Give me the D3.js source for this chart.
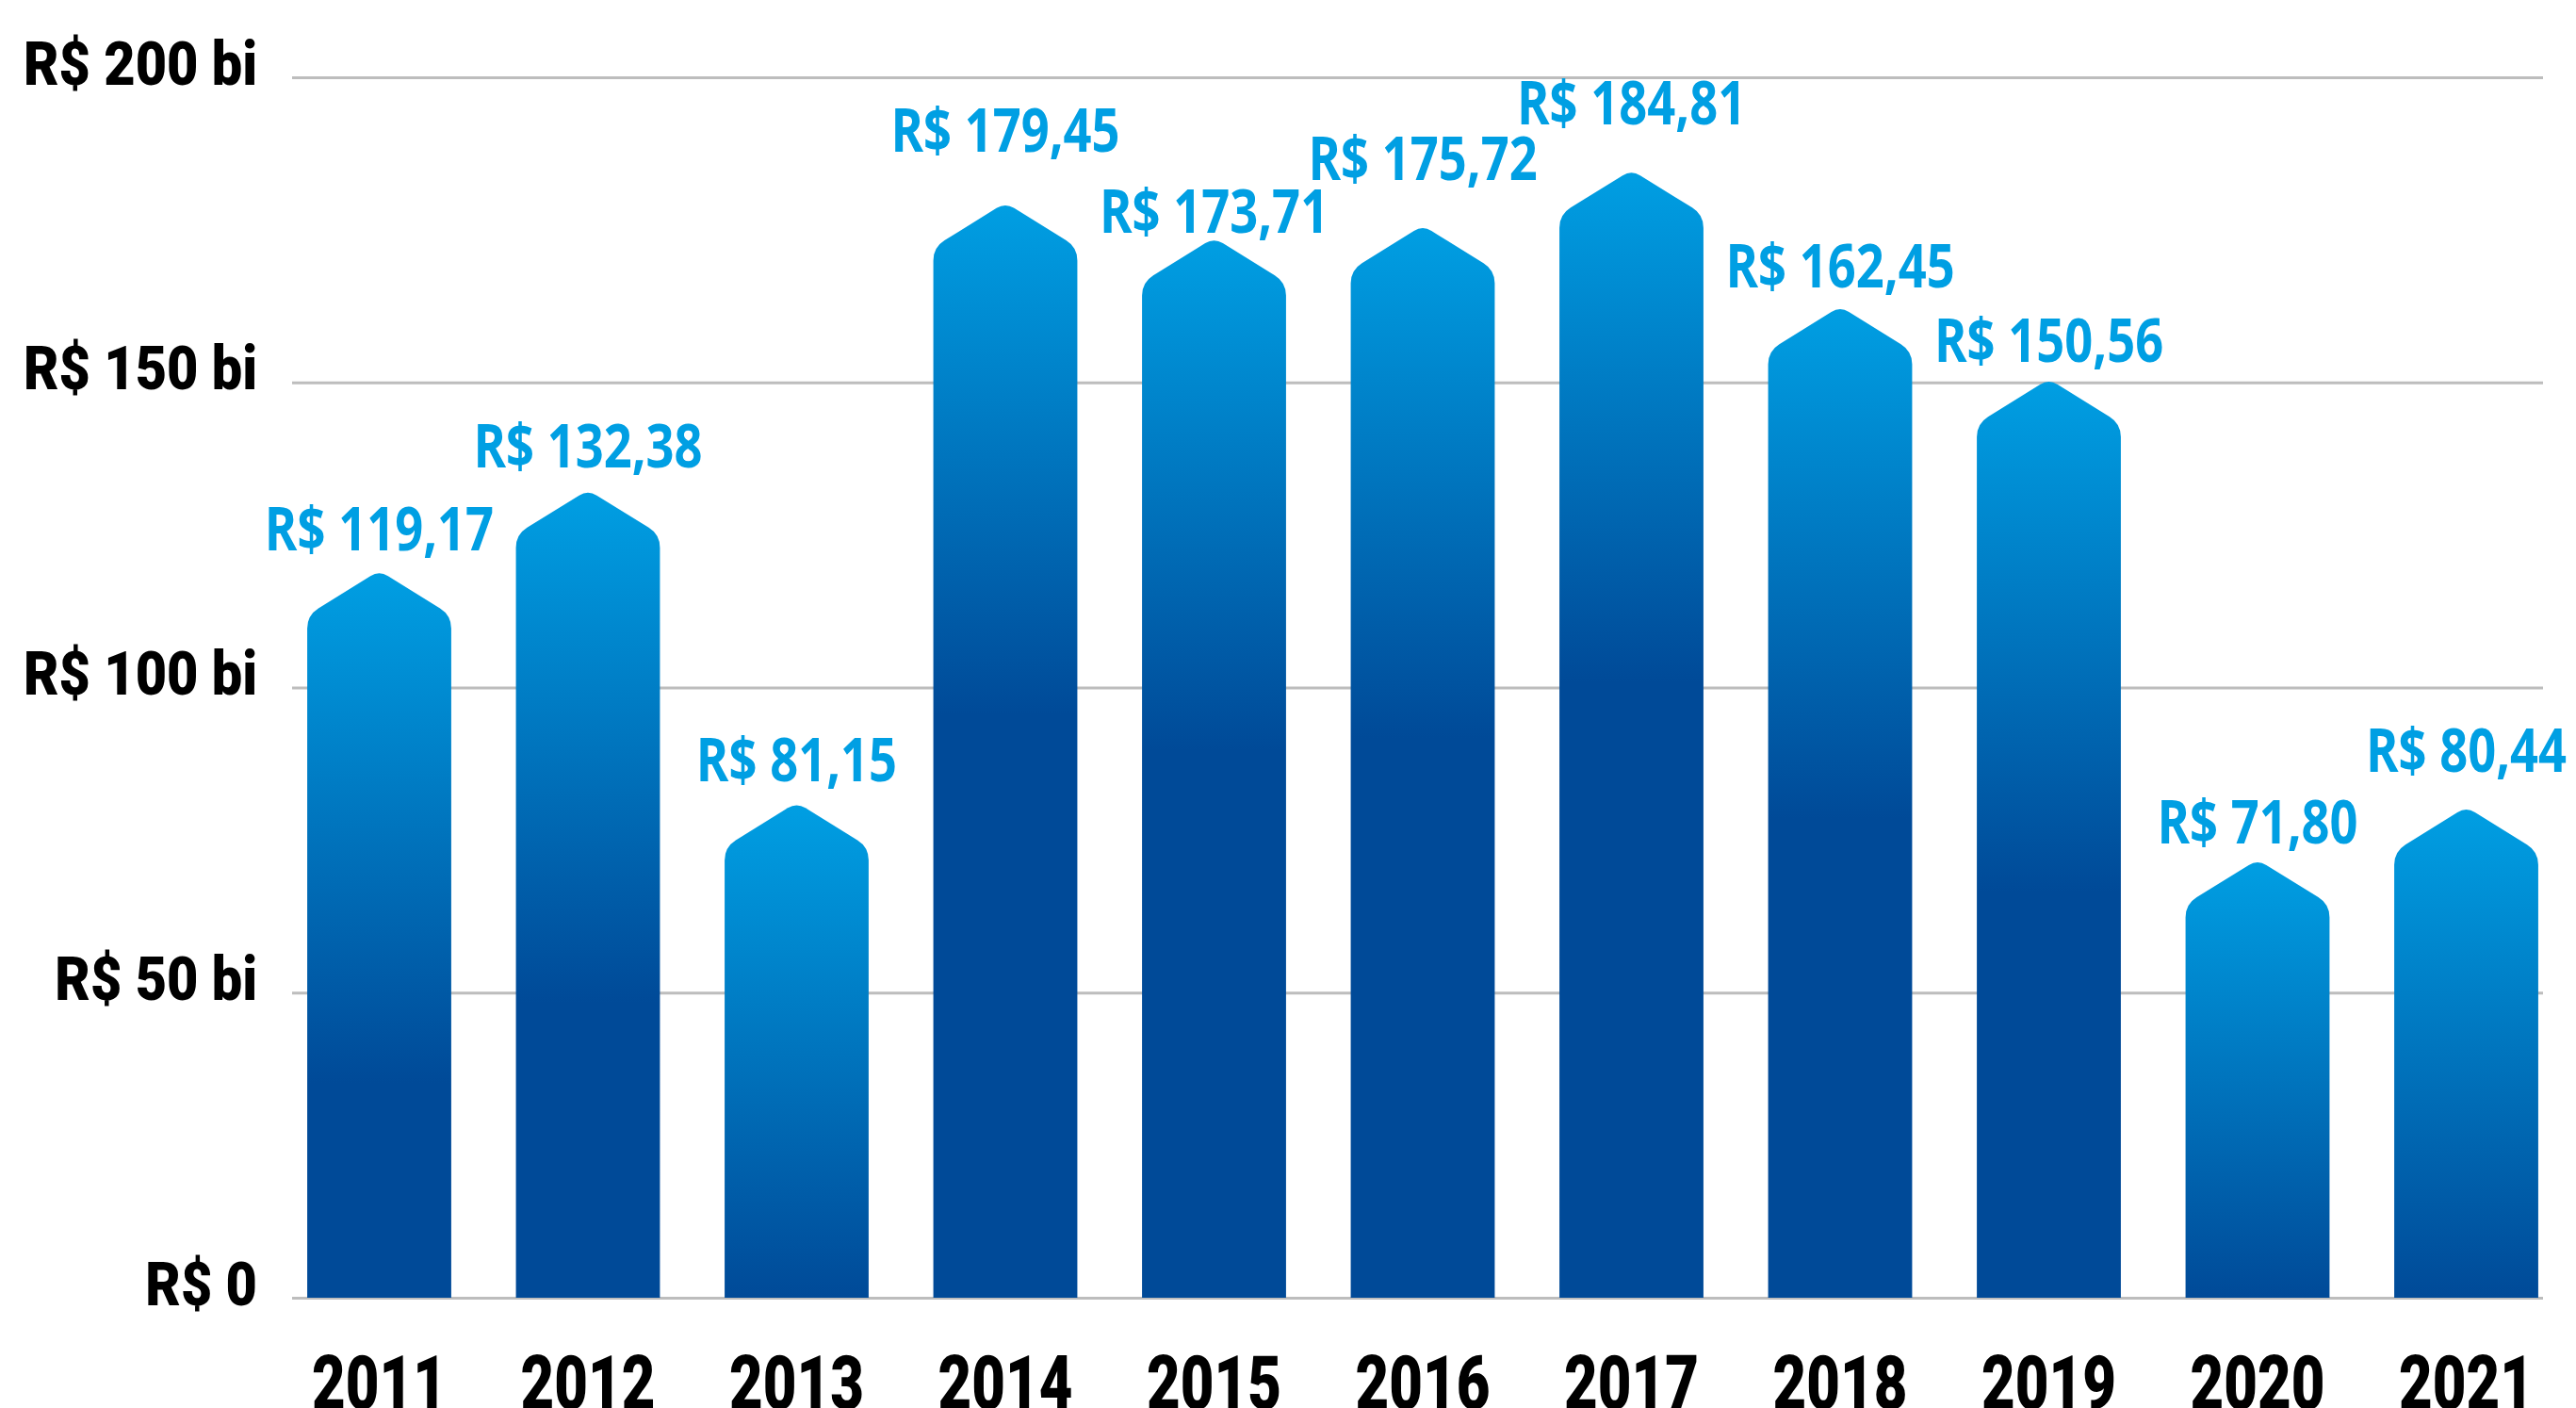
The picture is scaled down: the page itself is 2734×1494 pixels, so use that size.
<!DOCTYPE html>
<html>
<head>
<meta charset="utf-8">
<script src="https://cdn.jsdelivr.net/npm/d3@7"></script>
<style>
  body { margin: 0; background: #fff; }
</style>
</head>
<body>
<div id="chart"></div>
<script>
// Data (R$ bilhões)
let years = ["2011", "2012", "2013", "2014", "2015", "2016", "2017", "2018", "2019", "2020", "2021"];
let values = [119.17, 132.38, 81.15, 179.45, 173.71, 175.72, 184.81, 162.45, 150.56, 71.80, 80.44];
let yTicks = [0, 50, 100, 150, 200];
let yTickLabels = ["R$ 0", "R$ 50 bi", "R$ 100 bi", "R$ 150 bi", "R$ 200 bi"];

let width = 2734,
    height = 1494;
let margin = {left: 310, right: 35, top: 82, bottom: 117};

// how far each value label sits above its roof (hand placed in the original)
let labelLift = [21, 24, 23, 54, 5, 48, 48, 20, 18, 17, 37];

let lightBlue = "#009fe3",
    darkBlue = "#004a98";

let svg = d3.select("#chart")
    .append("svg")
    .attr("width", width)
    .attr("height", height);

let defs = svg.append("defs");

let x = d3.scaleBand()
    .domain(years)
    .range([315, width - 29])
    .paddingInner(0.31)
    .paddingOuter(0.05);

let y = d3.scaleLinear()
    .domain([0, 200])
    .range([height - margin.bottom, margin.top]);

// y axis: labels + gridlines
let yAxis = svg.append("g")
    .attr("transform", `translate(${margin.left}, 0)`)
    .call(d3.axisLeft(y)
        .tickValues(yTicks)
        .tickSize(-(width - margin.left - margin.right))
        .tickFormat((d, i) => yTickLabels[i]));

yAxis.select(".domain").remove();
yAxis.selectAll(".tick line")
    .attr("stroke", "#bdbdbd")
    .attr("stroke-width", 3);
yAxis.selectAll(".tick text")
    .attr("transform", "scale(0.9,1)")
    .attr("x", -37 / 0.9)
    .attr("dy", 7)
    .style("text-anchor", "end")
    .style("font-family", "Roboto, sans-serif")
    .style("font-weight", 900)
    .style("font-size", "64px")
    .attr("fill", "#000");

// x axis: years under the bars
let xAxis = svg.append("g")
    .attr("transform", `translate(0, ${y(0)})`)
    .call(d3.axisBottom(x).tickSize(0));

xAxis.select(".domain").remove();
xAxis.selectAll(".tick text")
    .attr("transform", "scale(0.77,1)")
    .attr("y", 118)
    .attr("dy", 0)
    .style("font-family", "Roboto, sans-serif")
    .style("font-weight", 900)
    .style("font-size", "80px")
    .attr("fill", "#000");

// house shaped bar: rectangle with a pointed roof, corners rounded
function housePath(x0, w, yTop, yBase, roofH, r, ra) {
    let x1 = x0 + w,
        xc = x0 + w / 2,
        ys = yTop + roofH;
    let L = Math.sqrt((w / 2) * (w / 2) + roofH * roofH);
    let ux = (w / 2) / L,
        uy = roofH / L;
    let p = d3.path();
    p.moveTo(x0, yBase);
    p.lineTo(x0, ys + r);
    p.quadraticCurveTo(x0, ys, x0 + ux * r, ys - uy * r);
    p.lineTo(xc - ux * ra, yTop + uy * ra);
    p.quadraticCurveTo(xc, yTop, xc + ux * ra, yTop + uy * ra);
    p.lineTo(x1 - ux * r, ys - uy * r);
    p.quadraticCurveTo(x1, ys, x1, ys + r);
    p.lineTo(x1, yBase);
    p.closePath();
    return p.toString();
}

let data = years.map((d, i) => ({year: d, value: values[i], lift: labelLift[i]}));

// one gradient per bar: light at the peak, dark after ~84 units down
let gradLen = y(0) - y(84);
let grads = defs.selectAll("linearGradient")
    .data(data)
    .enter()
    .append("linearGradient")
    .attr("id", (d, i) => "grad" + i)
    .attr("gradientUnits", "userSpaceOnUse")
    .attr("x1", 0).attr("x2", 0)
    .attr("y1", d => y(d.value))
    .attr("y2", d => Math.min(y(0), y(d.value) + gradLen));
grads.append("stop").attr("offset", 0).attr("stop-color", lightBlue);
grads.append("stop").attr("offset", 1).attr("stop-color", darkBlue);

let bw = x.bandwidth();
svg.append("g")
    .selectAll("path")
    .data(data)
    .enter()
    .append("path")
    .attr("d", d => housePath(x(d.year), bw, y(d.value), y(0), bw * 0.31, 14, 11))
    .attr("fill", (d, i) => `url(#grad${i})`);

// value labels above each roof
svg.append("g")
    .selectAll("text")
    .data(data)
    .enter()
    .append("text")
    .attr("transform", d => `translate(${x(d.year) + bw / 2}, ${y(d.value) - d.lift}) scale(0.82,1)`)
    .style("text-anchor", "middle")
    .style("font-family", "'Open Sans', sans-serif")
    .style("font-weight", 700)
    .style("font-size", "64px")
    .attr("fill", lightBlue)
    .text(d => "R$ " + d.value.toFixed(2).replace(".", ","));
</script>
</body>
</html>
